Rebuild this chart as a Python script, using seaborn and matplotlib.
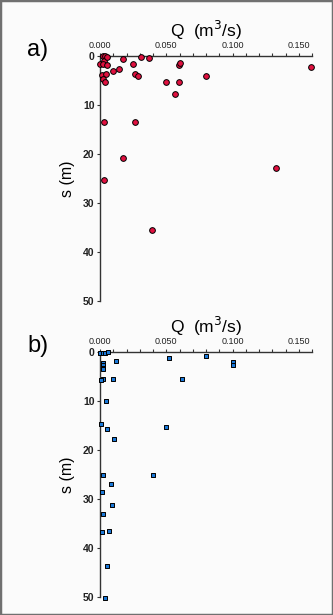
import matplotlib
matplotlib.use("Agg")
import matplotlib.pyplot as plt
from matplotlib.patches import Rectangle
from matplotlib.ticker import MultipleLocator
import seaborn as sns
import pandas as pd

sns.set_style("white")
plt.rcParams['font.family'] = ['Liberation Sans', 'DejaVu Sans']
plt.rcParams['text.color'] = 'black'
plt.rcParams['axes.labelcolor'] = 'black'
plt.rcParams['xtick.color'] = '#222222'
plt.rcParams['ytick.color'] = '#222222'

# Panel a) data: discharge Q (m3/s) vs depth s (m)
q_a = [0.0000, 0.0025, 0.0040, 0.0030, 0.0025, 0.0055, 0.0013, 0.0045, 0.0020,
       0.0040, 0.0095, 0.0145, 0.0176, 0.0246, 0.0264, 0.0284, 0.0310, 0.0370,
       0.0495, 0.0596, 0.0604, 0.0596, 0.0563, 0.0797, 0.1595, 0.0028, 0.0262,
       0.0176, 0.0033, 0.0396, 0.1330, 0.0050]
s_a = [1.6, 0.0, 0.0, 1.1, 1.6, 1.9, 3.9, 3.7, 4.6,
       5.4, 3.1, 2.7, 0.6, 1.6, 3.6, 4.0, 0.2, 0.5,
       5.3, 1.8, 1.4, 5.3, 7.8, 4.1, 2.2, 13.5, 13.5,
       20.8, 25.4, 35.6, 22.9, 0.3]

# Panel b) data
q_b = [0.0000, 0.0020, 0.0040, 0.0063, 0.0120, 0.0025, 0.0025, 0.0025, 0.0025,
       0.0020, 0.0010, 0.0100, 0.0045, 0.0005, 0.0055, 0.0106, 0.0500, 0.0520,
       0.0797, 0.1000, 0.1000, 0.0620, 0.0020, 0.0080, 0.0018, 0.0088, 0.0025,
       0.0015, 0.0070, 0.0055, 0.0038, 0.0400]
s_b = [0.3, 0.3, 0.3, 0.1, 1.8, 2.2, 2.7, 3.3, 3.5,
       5.5, 5.7, 5.6, 10.1, 14.6, 15.7, 17.8, 15.4, 1.2,
       0.8, 2.1, 2.6, 5.6, 25.2, 26.9, 28.6, 31.2, 33.1,
       36.7, 36.5, 43.7, 50.2, 25.2]

panel_labels = ["a)", "b)"]
x_title = "Q  (m$^3$/s)"
y_title = "s (m)"
x_major = [0.000, 0.050, 0.100, 0.150]
y_major = [0, 10, 20, 30, 40, 50]

df_a = pd.DataFrame({"Q": q_a, "s": s_a})
df_b = pd.DataFrame({"Q": q_b, "s": s_b})

fig = plt.figure(figsize=(3.33, 6.15), dpi=100)
fig.patch.set_facecolor('#fbfbfb')

W, H = 333, 615
def rect(l, r, t, b):
    return [l / W, 1 - b / H, (r - l) / W, (b - t) / H]

ax_a = fig.add_axes(rect(100, 312, 56, 301))
ax_b = fig.add_axes(rect(100, 312, 352, 597))

specs = [
    (ax_a, df_a, 'o', '#e0103f', 17, 56),
    (ax_b, df_b, 's', '#1a78d8', 12, 352),
]

for i, (ax, df, mk, col, sz, top) in enumerate(specs):
    ax.set_facecolor('none')
    sns.scatterplot(data=df, x="Q", y="s", ax=ax, marker=mk, color=col,
                    s=sz, edgecolor='black', linewidth=0.7, clip_on=False,
                    zorder=3, legend=False)
    ax.set_xlim(0, 0.16)
    ax.set_ylim(50, 0)
    ax.xaxis.tick_top()
    ax.xaxis.set_label_position('top')
    ax.set_xticks(x_major)
    ax.set_xticklabels([f"{v:.3f}" for v in x_major])
    ax.xaxis.set_minor_locator(MultipleLocator(0.01))
    ax.set_yticks(y_major)
    ax.set_yticklabels([str(v) for v in y_major])
    for sp in ['right', 'bottom']:
        ax.spines[sp].set_visible(False)
    for sp in ['left', 'top']:
        ax.spines[sp].set_color('#333333')
        ax.spines[sp].set_linewidth(1.0)
    ax.tick_params(axis='x', which='both', top=True, bottom=False, direction='out',
                   length=2.5, width=0.8, color='#333333', labelsize=6.5, pad=1.5)
    ax.tick_params(axis='y', which='major', left=True, direction='out',
                   length=2.5, width=0.8, color='#333333', labelsize=7.5, pad=1.5)
    for lab in ax.get_yticklabels():
        lab.set_fontweight('bold')
    ax.set_xlabel(x_title, fontsize=12.5, labelpad=3)
    ax.set_ylabel(y_title, fontsize=11.5, labelpad=6)
    fig.text(27 / W, 1 - (top - 6) / H, panel_labels[i], fontsize=17,
             ha='left', va='center')

fig.patches.append(Rectangle((0, 0), 1, 1, transform=fig.transFigure,
                             fill=False, edgecolor='#707070', linewidth=2.5))

fig.savefig("out.png", dpi=100, facecolor=fig.get_facecolor())
